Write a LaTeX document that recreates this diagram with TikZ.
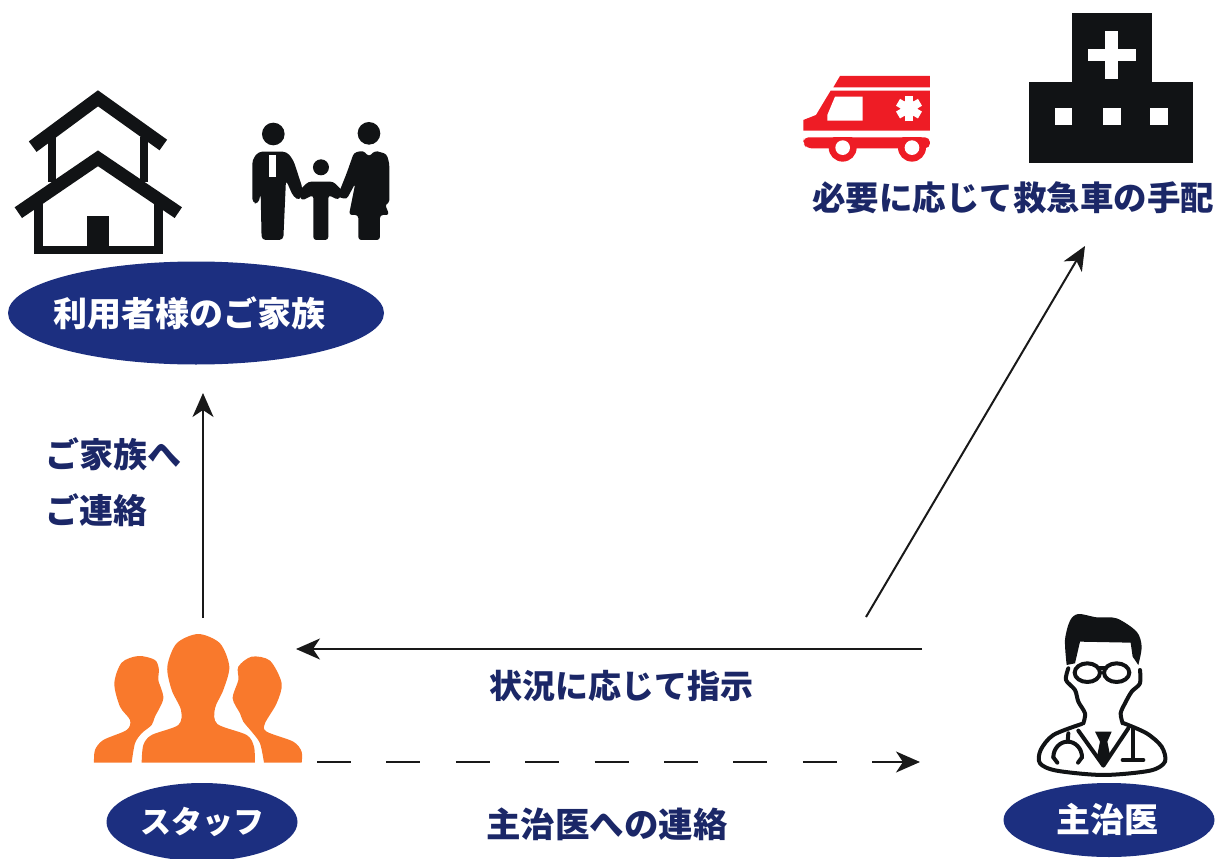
\documentclass[tikz,border=0pt]{standalone}
\usepackage{fontspec}
\usepackage{xcolor}
\usetikzlibrary{arrows.meta}
\usetikzlibrary{shapes.geometric}
\newfontfamily\jpfont{Noto Sans CJK JP}
\definecolor{navyfill}{HTML}{1C2F80}
\definecolor{navytext}{HTML}{1B2767}
\definecolor{ambred}{HTML}{EE1C25}
\definecolor{staffor}{HTML}{F9792C}
\definecolor{iconblk}{HTML}{111315}
\tikzset{
    oval/.style={ellipse, fill=navyfill, text=white, inner sep=0pt, font=\jpfont\bfseries\fontsize{34}{40}\selectfont},
    caption/.style={text=navytext, inner sep=0pt, font=\jpfont\bfseries\fontsize{33.5}{40}\selectfont},
    arrowline/.style={draw=black!90, line width=2pt, -{Stealth[length=24pt,width=21pt,inset=7pt]}},
    dashline/.style={arrowline, dash pattern=on 34pt off 35.4pt},
    ink/.style={draw=iconblk, line width=4pt, line join=round, line cap=round},
}
\begin{document}
\begin{tikzpicture}[x=1pt,y=-1pt]
        \useasboundingbox (0,0) rectangle (1216,859);

        % house
        \begin{scope}[shift={(0,80)},x=0.3333pt,y=-0.3333pt]
            \draw[draw=iconblk, line width=8pt] (155,170) -- (155,305);
            \draw[draw=iconblk, line width=8pt] (432,170) -- (432,305);
            \draw[draw=iconblk, line width=13pt] (98,200) -- (294,55) -- (490,195);
            \draw[draw=iconblk, line width=8.5pt] (115,370) -- (115,510) -- (475,510) -- (475,370);
            \draw[draw=iconblk, line width=13pt] (55,398) -- (294,235) -- (535,398);
            \fill[iconblk] (262,408) rectangle (326,510);
        \end{scope}

        % family
        \begin{scope}[shift={(0,80)},x=0.3333pt,y=-0.3333pt]
            \fill[iconblk] (820,162) circle (34);
            \fill[iconblk] (963,262) circle (24);
            \fill[iconblk] (1107,160) circle (34);
            % man
            \fill[iconblk, rounded corners=4pt] (757,240) -- (775,215) -- (860,215) -- (880,240) -- (908,325) -- (900,362) -- (880,350) -- (858,300) -- (850,480) -- (785,480) -- (782,340) -- (775,372) -- (757,368) -- cycle;
            \fill[white] (808,225) rectangle (828,290);
            % child
            \fill[iconblk, rounded corners=3pt] (895,335) -- (925,305) -- (1000,305) -- (1030,335) -- (1015,360) -- (985,345) -- (985,480) -- (940,480) -- (940,345) -- (905,362) -- cycle;
            % woman
            \fill[iconblk, rounded corners=3pt] (1062,218) -- (1090,212) -- (1107,230) -- (1125,212) -- (1160,222) -- (1168,250) -- (1168,370) -- (1155,372) -- (1168,405) -- (1140,405) -- (1140,480) -- (1075,480) -- (1075,405) -- (1047,405) -- (1066,310) -- (1040,358) -- (1012,350) -- (1040,280) -- cycle;
        \end{scope}

        % ambulance
        \begin{scope}[shift={(790,0)},x=0.3333pt,y=-0.3333pt]
            \fill[ambred] (150,228) -- (420,228) -- (420,262) -- (130,262) -- cycle;
            \fill[ambred] (122,272) -- (420,272) -- (420,392) -- (40,392) -- (40,360) -- (78,345) -- cycle;
            \fill[white] (135,290) -- (218,290) -- (218,362) -- (112,362) -- (112,345) -- cycle;
            \fill[white] (357,326) circle (26);
            \foreach \ang in {30,90,150}
                \draw[white, line width=8pt] (357,326) ++(\ang:38) -- ++(\ang+180:76);
            \fill[ambred, rounded corners=5pt] (40,412) -- (420,412) -- (420,445) -- (50,445) -- (40,430) -- cycle;
            \foreach \cx in {158,366}{
                \fill[ambred] (\cx,443) circle (42);
                \fill[white] (\cx,443) circle (22);
            }
            \fill[white] (30,392) rectangle (430,412);
        \end{scope}

        % hospital
        \begin{scope}[shift={(790,0)},x=0.3333pt,y=-0.3333pt]
            \fill[iconblk] (845,40) rectangle (1087,245);
            \fill[iconblk] (718,245) rectangle (1208,490);
            \fill[white] (946,93) rectangle (984,237);
            \fill[white] (893,147) rectangle (1038,183);
            \foreach \wx in {795,940,1081}
                \fill[white] (\wx,323) rectangle ++(52,52);
        \end{scope}

        % staff
        \begin{scope}[shift={(80,620)},x=0.3333pt,y=-0.3333pt]
            \fill[staffor] plot[smooth] coordinates {(42,428) (45,390) (70,360) (140,330) (150,300) (120,260) (103,190) (125,128) (175,108) (225,120) (237,150) (235,180) (250,235) (225,290) (215,315) (185,340) (165,370) (155,428)} -- cycle;
            \fill[staffor] plot[smooth] coordinates {(665,428) (665,395) (640,365) (560,335) (555,310) (590,250) (605,190) (570,122) (515,110) (475,140) (475,180) (458,235) (480,280) (490,305) (515,335) (540,370) (552,428)} -- cycle;
            \fill[staffor] plot[smooth] coordinates {(185,428) (190,375) (215,345) (295,315) (303,270) (275,210) (262,140) (290,70) (355,42) (420,70) (448,140) (430,210) (405,265) (412,312) (500,345) (522,380) (525,428)} -- cycle;
        \end{scope}

        % doctor
        \begin{scope}[shift={(1000,600)},x=0.3333pt,y=-0.3333pt]
            \fill[iconblk] plot[smooth] coordinates {(200,195) (195,120) (210,62) (235,42) (290,52) (350,55) (410,95) (425,140) (415,195)} -- (398,170) -- (392,128) -- (240,125) -- (225,190) -- cycle;
            \draw[ink] plot[smooth] coordinates {(205,205) (198,240) (225,270) (235,305) (255,340) (250,370)};
            \draw[ink] plot[smooth] coordinates {(420,210) (420,250) (395,275) (375,310) (362,340) (368,370)};
            \draw[ink] (262,218) ellipse (38 and 28);
            \draw[ink] (350,218) ellipse (38 and 28);
            \draw[ink] (295,205) -- (318,205);
            \draw[ink] plot[smooth] coordinates {(245,372) (160,405) (122,450) (120,490) (170,512) (310,525) (450,512) (495,485) (485,440) (440,400) (372,370)};
            \draw[ink] (235,392) -- (310,497) -- (385,385);
            \fill[iconblk] (285,395) -- (335,395) -- (322,425) -- (330,465) -- (310,492) -- (292,465) -- (300,425) -- cycle;
            \draw[ink] (205,400) -- (203,425);
            \draw[ink] (160,472) arc (180:360:43 and 47);
            \draw[ink] (160,472) -- (172,488);
            \draw[ink] (246,472) -- (234,488);
            \draw[ink] (400,385) -- (400,478);
            \draw[ink] (368,480) -- (430,480);
        \end{scope}

        % ovals
        \node[oval, minimum width=376pt, minimum height=103pt] (family) at (196,313) {\hspace*{-14pt}利用者様のご家族};
        \node[oval, minimum width=191pt, minimum height=78pt, font=\jpfont\bfseries\fontsize{31}{36}\selectfont] (staff) at (202,822) {スタッフ};
        \node[oval, minimum width=211pt, minimum height=74pt] (doctor) at (1109,820) {\hspace*{-4pt}主治医};

        % texts
        \node[caption] (hospcap) at (1013,198) {必要に応じて救急車の手配};
        \node[caption, anchor=west, align=left, font=\jpfont\bfseries\fontsize{34}{56}\selectfont] (contactcap) at (45,482) {ご家族へ\\ご連絡};
        \node[caption, font=\jpfont\bfseries\fontsize{33}{40}\selectfont] (instrcap) at (621,686) {状況に応じて指示};
        \node[caption, font=\jpfont\bfseries\fontsize{34.5}{40}\selectfont] (reportcap) at (607,824) {主治医への連絡};

        % arrow ends
        \coordinate (staffup) at (203,618);
        \coordinate (familydown) at (203,393);
        \coordinate (doctorup) at (866,617);
        \coordinate (hospdown) at (1085,246);
        \coordinate (doctorleft) at (922,649);
        \coordinate (staffright) at (296,649);
        \coordinate (stafflow) at (317,762);
        \coordinate (doctorlow) at (920,762);

        \draw[arrowline] (staffup) -- (familydown);
        \draw[arrowline] (doctorup) -- (hospdown);
        \draw[arrowline] (doctorleft) -- (staffright);
        \draw[dashline] (stafflow) -- (doctorlow);

\end{tikzpicture}
\end{document}
